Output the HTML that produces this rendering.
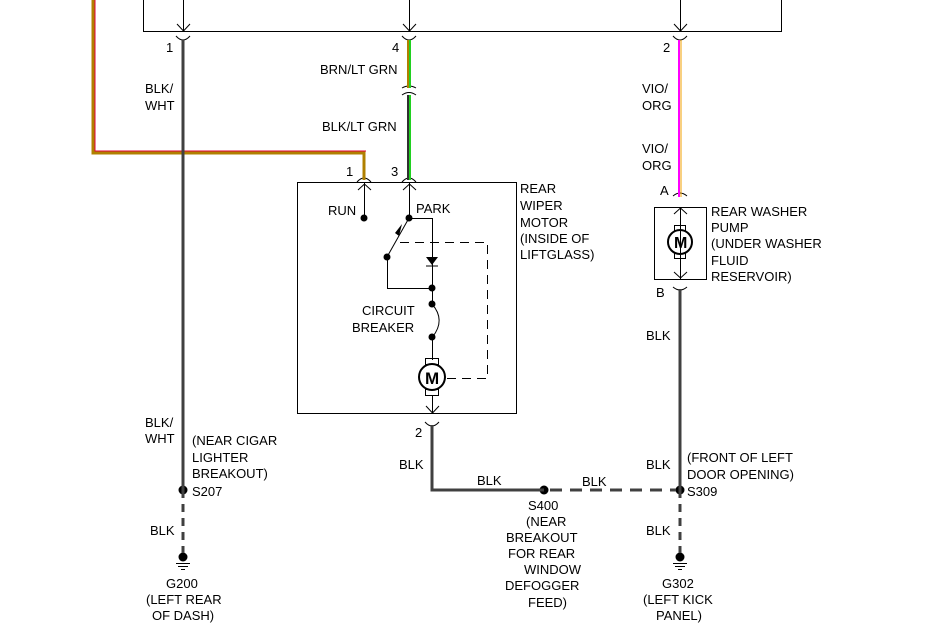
<!DOCTYPE html>
<html><head><style>body{margin:0;background:#fff}svg{display:block}text{font-family:"Liberation Sans",sans-serif;font-size:13px;fill:#000}</style></head><body>
<svg width="929" height="627" viewBox="0 0 929 627" xmlns="http://www.w3.org/2000/svg">
<g fill="none" stroke="#000" stroke-width="1">
<path d="M143.5,0V31.5H781.5V0"/>
<path d="M183.5,0V31M409.5,0V31M680.5,0V31"/>
<path d="M177,24L183.5,31L190,24M403,24L409.5,31L416,24M674,24L680.5,31L687,24"/>
<path d="M176,36Q183,44 190,36M402,36Q409,44 416,36M673,36Q680,44 687,36"/>
<path d="M402,88Q409,84 416,88M402,95Q409,90 416,95"/>
<path d="M357,182Q364,174 371,182M402,182Q409,174 416,182"/>
<rect x="297.5" y="182.5" width="219" height="231"/>
<path d="M364.5,182V218M358,190L364.5,184L371,190M409.5,182V218M403,190L409.5,184L416,190"/>
<path d="M409,218.5H432.5V288M432.5,304V288M387,257L409,218M387.5,257V288.5H432"/>
<path d="M432,304Q446,320 432.5,337V360"/>
<path d="M400,242.5H487.5V378.5H445" stroke-dasharray="9,6"/>
<circle cx="432" cy="377" r="13" stroke-width="2"/>
<rect x="425.5" y="358.5" width="13" height="6"/><rect x="425.5" y="389.5" width="13" height="6"/>
<path d="M432.5,396V413M426,406L432.5,413L439,406"/>
<path d="M425,422Q432,430 439,422"/>
<rect x="654.5" y="207.5" width="52" height="72"/>
<path d="M680.5,207V279M674,214L680.5,208L687,214M674,272L680.5,278L687,272"/>
<circle cx="680" cy="242" r="12" stroke-width="2"/>
<rect x="674.5" y="225.5" width="11" height="5"/><rect x="674.5" y="253.5" width="11" height="5"/>
<path d="M673,196Q680,190 687,196M673,287Q680,293 687,287"/>
<path d="M176,563.5H190M178,566.5H188M181,569.5H185M673,563.5H687M675,566.5H685M678,569.5H682"/>
</g>
<polygon points="426,257 438,257 432,265" fill="#000"/><path d="M426,266H438" stroke="#000"/>
<polygon points="395,233 402,224 399,236" fill="#000"/>
<g fill="#000"><circle cx="364" cy="218" r="3.5"/><circle cx="409" cy="218" r="3.5"/><circle cx="387" cy="257" r="3.5"/><circle cx="432" cy="288" r="3.5"/><circle cx="432" cy="304" r="3.5"/><circle cx="432" cy="337" r="3.5"/>
<circle cx="183" cy="490" r="4.5"/><circle cx="544" cy="490" r="4.5"/><circle cx="680" cy="490" r="4.5"/><circle cx="183" cy="557" r="4.5"/><circle cx="680" cy="557" r="4.5"/></g>
<path d="M93,0V153H364V180" fill="none" stroke="#b08000" stroke-width="3"/>
<path d="M95,0V151H366" fill="none" stroke="#e0003a" stroke-width="1"/>
<path d="M183,40V490" stroke="#404040" stroke-width="3"/>
<path d="M183,490V553" stroke="#404040" stroke-width="3" stroke-dasharray="8,6"/>
<path d="M408,40V88" stroke="#b08000" stroke-width="2"/><path d="M410,40V88" stroke="#20d020" stroke-width="2"/>
<path d="M408,95V180" stroke="#303030" stroke-width="2"/><path d="M410,95V180" stroke="#20d020" stroke-width="2"/>
<path d="M679,40V197" stroke="#ff00ff" stroke-width="2"/><path d="M681,40V197" stroke="#f0a000" stroke-width="1"/>
<path d="M680,289V490" stroke="#404040" stroke-width="3"/>
<path d="M680,490V553" stroke="#404040" stroke-width="3" stroke-dasharray="8,6"/>
<path d="M432,425V490H544" fill="none" stroke="#404040" stroke-width="3"/>
<path d="M550,490H676" stroke="#404040" stroke-width="3" stroke-dasharray="12,8"/>
<text x="425" y="384" style="font-size:17px;font-weight:bold">M</text>
<text x="674" y="248" style="font-size:16px;font-weight:bold">M</text>
<text x="166" y="52">1</text><text x="392" y="52">4</text><text x="663" y="52">2</text>
<text x="145" y="93">BLK/</text><text x="145" y="110">WHT</text>
<text x="320" y="74">BRN/LT GRN</text><text x="322" y="131">BLK/LT GRN</text>
<text x="642" y="93">VIO/</text><text x="642" y="110">ORG</text>
<text x="642" y="153">VIO/</text><text x="642" y="170">ORG</text>
<text x="346" y="176">1</text><text x="391" y="176">3</text>
<text x="328" y="215">RUN</text><text x="416" y="213">PARK</text>
<text x="520" y="193">REAR</text><text x="520" y="210">WIPER</text><text x="520" y="227">MOTOR</text><text x="520" y="243">(INSIDE OF</text><text x="520" y="259">LIFTGLASS)</text>
<text x="362" y="315">CIRCUIT</text><text x="352" y="332">BREAKER</text>
<text x="660" y="195">A</text><text x="656" y="297">B</text>
<text x="711" y="216">REAR WASHER</text><text x="711" y="232">PUMP</text><text x="711" y="248">(UNDER WASHER</text><text x="711" y="265">FLUID</text><text x="711" y="281">RESERVOIR)</text>
<text x="646" y="340">BLK</text>
<text x="415" y="437">2</text>
<text x="145" y="427">BLK/</text><text x="145" y="443">WHT</text>
<text x="192" y="445">(NEAR CIGAR</text><text x="192" y="462">LIGHTER</text><text x="192" y="478">BREAKOUT)</text>
<text x="192" y="496">S207</text>
<text x="150" y="535">BLK</text>
<text x="166" y="588">G200</text><text x="146" y="604">(LEFT REAR</text><text x="152" y="620">OF DASH)</text>
<text x="399" y="469">BLK</text><text x="477" y="485">BLK</text><text x="582" y="486">BLK</text>
<text x="646" y="469">BLK</text>
<text x="687" y="462">(FRONT OF LEFT</text><text x="687" y="479">DOOR OPENING)</text><text x="687" y="496">S309</text>
<text x="528" y="510">S400</text><text x="526" y="526">(NEAR</text><text x="506" y="542">BREAKOUT</text><text x="508" y="558">FOR REAR</text><text x="524" y="574">WINDOW</text><text x="505" y="590">DEFOGGER</text><text x="528" y="607">FEED)</text>
<text x="646" y="535">BLK</text>
<text x="662" y="588">G302</text><text x="643" y="604">(LEFT KICK</text><text x="656" y="620">PANEL)</text>
</svg>
</body></html>
